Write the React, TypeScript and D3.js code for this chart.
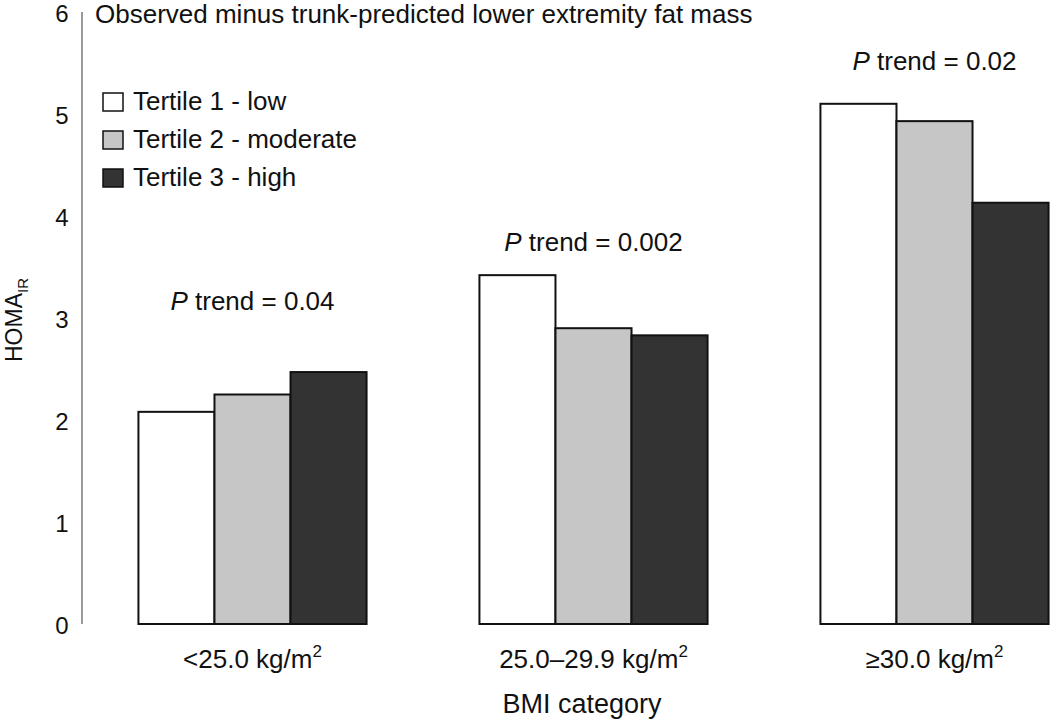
import React from "react";
import * as d3 from "d3";

const categories = ["<25.0", "25.0–29.9", "≥30.0"];
const categoryPrefixes = ["<25.0 kg/m", "25.0–29.9 kg/m", "≥30.0 kg/m"];
const series = ["Tertile 1 - low", "Tertile 2 - moderate", "Tertile 3 - high"];
const tertile1 = [2.08, 3.42, 5.1];
const tertile2 = [2.25, 2.9, 4.93];
const tertile3 = [2.47, 2.83, 4.13];
const pTrend = ["0.04", "0.002", "0.02"];
const pTrendY = [3.08, 3.66, 5.43];
const yTicks = [0, 1, 2, 3, 4, 5, 6];
const colors = ["#ffffff", "#c6c6c6", "#333333"];

const W = 1050;
const H = 725;
const FONT = "'Liberation Sans', Arial, Helvetica, sans-serif";

export default function App() {
  const values = [tertile1, tertile2, tertile3];
  const x0 = d3
    .scaleBand<string>()
    .domain(categories)
    .range([82, 1105])
    .paddingInner(0.331)
    .paddingOuter(0.1655);
  const x1 = d3
    .scaleBand<string>()
    .domain(series)
    .range([0, x0.bandwidth()]);
  const y = d3.scaleLinear().domain([0, 6]).range([624, 12]);

  return (
    <svg
      width={W}
      height={H}
      style={{ position: "absolute", left: 0, top: 0, background: "#fff" }}
      fontFamily={FONT}
    >
      <rect x={0} y={0} width={W} height={H} fill="#fff" />
      {/* y axis line */}
      <line x1={82} x2={82} y1={y(6)} y2={y(0)} stroke="#9a9a9a" strokeWidth={2} />
      {yTicks.map((t) => (
        <text key={t} x={62} y={y(t) + 10} fontSize={24} textAnchor="middle" fill="#111">
          {t}
        </text>
      ))}
      {/* y title */}
      <text transform={`translate(22,320) rotate(-90)`} fontSize={23} textAnchor="middle" fill="#111">
        HOMA
        <tspan fontSize={15} dy={6}>IR</tspan>
      </text>
      {/* title */}
      <text x={95} y={23} fontSize={26} fill="#111">
        Observed minus trunk-predicted lower extremity fat mass
      </text>
      {/* bars */}
      {categories.map((c, ci) => (
        <g key={c} transform={`translate(${x0(c)},0)`}>
          {series.map((s, si) => (
            <rect
              key={s}
              x={x1(s)}
              y={y(values[si][ci])}
              width={x1.bandwidth()}
              height={y(0) - y(values[si][ci])}
              fill={colors[si]}
              stroke="#111"
              strokeWidth={2}
            />
          ))}
        </g>
      ))}
      {/* p trend labels */}
      {categories.map((c, ci) => (
        <text
          key={"p" + c}
          x={(x0(c) as number) + x0.bandwidth() / 2}
          y={y(pTrendY[ci])}
          fontSize={26}
          textAnchor="middle"
          fill="#111"
        >
          <tspan fontStyle="italic">P</tspan> trend = {pTrend[ci]}
        </text>
      ))}
      {/* x labels */}
      {categories.map((c, ci) => (
        <text
          key={"x" + c}
          x={(x0(c) as number) + x0.bandwidth() / 2}
          y={668}
          fontSize={26}
          textAnchor="middle"
          fill="#111"
        >
          {categoryPrefixes[ci]}
          <tspan fontSize={17} dy={-11}>2</tspan>
        </text>
      ))}
      <text x={582} y={713} fontSize={27} textAnchor="middle" fill="#111">
        BMI category
      </text>
      {/* legend */}
      {series.map((s, si) => (
        <g key={"l" + s} transform={`translate(103,${93 + si * 38})`}>
          <rect x={0} y={0} width={20} height={18} fill={colors[si]} stroke="#111" strokeWidth={1.5} />
          <text x={30} y={17} fontSize={26} fill="#111">
            {s}
          </text>
        </g>
      ))}
    </svg>
  );
}
